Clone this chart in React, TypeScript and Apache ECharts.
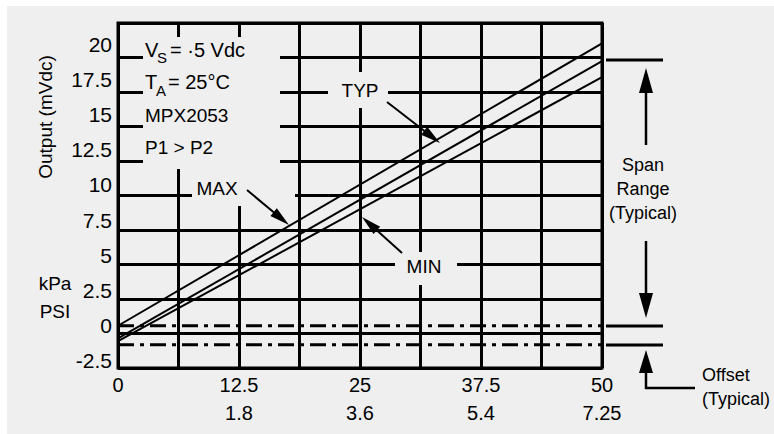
import React, { useEffect, useRef } from "react";
import * as echarts from "echarts";

// ---- data ----
const pressureKpa = [0, 50];
const maxOutput = [0.0, 20.05];
const typOutput = [-0.9, 18.8];
const minOutput = [-1.1, 17.65];
const offsetLevels = [0, -1.35];
const kpaLabels = [0, 12.5, 25, 37.5, 50];
const psiLabels = ["", "1.8", "3.6", "5.4", "7.25"];
const outputTicks = [-2.5, 0, 2.5, 5, 7.5, 10, 12.5, 15, 17.5, 20];

const BG = "#efefef";
const FONT = "'Liberation Sans', Arial, sans-serif";
const NARROW = "'Liberation Sans Narrow', 'Arial Narrow', 'Liberation Sans', sans-serif";

function arrow(x1: number, y1: number, x2: number, y2: number, len: number, half: number, lw: number) {
  const dx = x2 - x1, dy = y2 - y1;
  const d = Math.hypot(dx, dy);
  const ux = dx / d, uy = dy / d;
  const bx = x2 - ux * len, by = y2 - uy * len;
  const nx = -uy, ny = ux;
  return [
    { type: "line", z: 20, shape: { x1, y1, x2: bx + ux * 2, y2: by + uy * 2 }, style: { stroke: "#000", lineWidth: lw } },
    {
      type: "polygon", z: 20,
      shape: { points: [[x2, y2], [bx + nx * half, by + ny * half], [bx - nx * half, by - ny * half]] },
      style: { fill: "#000" },
    },
  ];
}

function txt(text: string, x: number, y: number, size: number, align = "left", extra: any = {}) {
  return {
    type: "text", z: 20, x, y, ...extra,
    style: {
      text, fill: "#000", fontSize: size, fontFamily: FONT,
      align, verticalAlign: "middle", textAlign: align, textVerticalAlign: "middle",
    },
  };
}

function mask(x: number, y: number, w: number, h: number) {
  return { type: "rect", z: 1, shape: { x, y, width: w, height: h }, style: { fill: BG } };
}

function hline(x1: number, x2: number, y: number, lw = 3) {
  return { type: "line", z: 20, shape: { x1, y1: y, x2, y2: y }, style: { stroke: "#000", lineWidth: lw } };
}

export default function App() {
  const ref = useRef<HTMLDivElement>(null);
  useEffect(() => {
    if (!ref.current) return;
    const chart = echarts.init(ref.current, undefined, { renderer: "svg" });
    const xFirst = pressureKpa[0];
    const xLast = pressureKpa[pressureKpa.length - 1];
    const lineSeries = (name: string, vals: number[]) => ({
      type: "line", name, silent: true, symbol: "none", z: 5,
      xAxisIndex: 0, yAxisIndex: 0,
      data: pressureKpa.map((x, i) => [x, vals[i]]),
      lineStyle: { color: "#000", width: 2 },
    });
    const offsetSeries = offsetLevels.map((v, i) => ({
      type: "line", name: "offset" + i, silent: true, symbol: "none", z: 4,
      xAxisIndex: 0, yAxisIndex: 0,
      data: [[xFirst, v], [xLast, v]],
      lineStyle: { color: "#000", width: 3, type: [16, 6, 4, 6] },
    }));

    chart.setOption({
      animation: false,
      backgroundColor: "transparent",
      grid: { left: 118, right: 172, top: 23, bottom: 66, show: true, borderColor: "#000", borderWidth: 3, backgroundColor: "transparent" },
      xAxis: [{
        type: "value", min: 0, max: 50, interval: 6.25,
        axisLine: { show: false }, axisTick: { show: false },
        splitLine: { show: true, lineStyle: { color: "#000", width: 3 } },
        axisLabel: {
          margin: 3, color: "#000", fontFamily: NARROW,
          formatter: (v: number) => {
            const i = kpaLabels.indexOf(v);
            if (i < 0) return "";
            return psiLabels[i] ? `{a|${v}}\n{a|${psiLabels[i]}}` : `{a|${v}}`;
          },
          rich: { a: { fontSize: 20, lineHeight: 28, fontFamily: NARROW, color: "#000" } },
        },
      }],
      yAxis: [
        {
          type: "value", min: -3.0, max: 21.5,
          axisLine: { show: false }, axisTick: { show: false }, splitLine: { show: false },
          axisLabel: {
            customValues: outputTicks, margin: 6, fontSize: 21, color: "#000", fontFamily: FONT,
            formatter: (v: number) => String(v),
          },
        },
        {
          type: "value", min: 0, max: 10, interval: 1, position: "left",
          axisLine: { show: false }, axisTick: { show: false }, axisLabel: { show: false },
          splitLine: { show: true, lineStyle: { color: "#000", width: 3 } },
        },
      ],
      series: [
        lineSeries("MAX", maxOutput),
        lineSeries("TYP", typOutput),
        lineSeries("MIN", minOutput),
        ...offsetSeries,
      ],
      graphic: {
        elements: [
          // masks breaking grid lines behind labels
          mask(143, 37, 137, 132),
          mask(192, 169, 103, 37),
          mask(328, 72, 60, 36),
          mask(395, 252, 62, 33),
          // info text block
          txt("V", 145, 50, 20),
          txt("S", 157, 57, 15),
          txt("= \u00b75 Vdc", 170, 50, 20),
          txt("T", 145, 82, 20),
          txt("A", 156, 90, 15),
          txt("= 25\u00b0C", 168, 82, 20),
          txt("MPX2053", 145, 115, 19),
          txt("P1 > P2", 145, 147, 19),
          // curve labels
          txt("MAX", 217, 188, 19, "center"),
          txt("TYP", 360, 90, 19, "center"),
          txt("MIN", 424, 266, 19, "center"),
          ...arrow(247, 190, 289, 225, 20, 5, 2),
          ...arrow(387, 102, 440, 143, 20, 5, 2),
          ...arrow(402, 253, 362, 217, 20, 5, 2),
          // axis titles
          txt("Output (mVdc)", 45, 117, 19, "center", { rotation: Math.PI / 2 }),
          txt("kPa", 55, 283, 19, "center"),
          txt("PSI", 55, 311, 19, "center"),
          // span annotation
          hline(606, 663, 60),
          ...arrow(646, 145, 646, 68, 25, 7, 2.5),
          txt("Span", 643, 165, 18, "center"),
          txt("Range", 643, 189, 18, "center"),
          txt("(Typical)", 643, 213, 18, "center"),
          ...arrow(646, 241, 646, 318, 25, 7, 2.5),
          // offset annotation
          hline(606, 663, 326),
          hline(606, 663, 345),
          ...arrow(646, 389, 646, 350, 23, 7, 2.5),
          hline(645, 695, 388, 2.5),
          txt("Offset", 702, 375, 18),
          txt("(Typical)", 702, 399, 18),
        ],
      },
    });
    return () => chart.dispose();
  }, []);

  return (
    <div style={{ position: "fixed", left: 0, top: 0, width: 774, height: 434, background: "#fff" }}>
      <div style={{ position: "absolute", left: 7, top: 6, width: 767, height: 428, background: BG }} />
      <div ref={ref} style={{ position: "absolute", left: 0, top: 0, width: 774, height: 434 }} />
    </div>
  );
}
